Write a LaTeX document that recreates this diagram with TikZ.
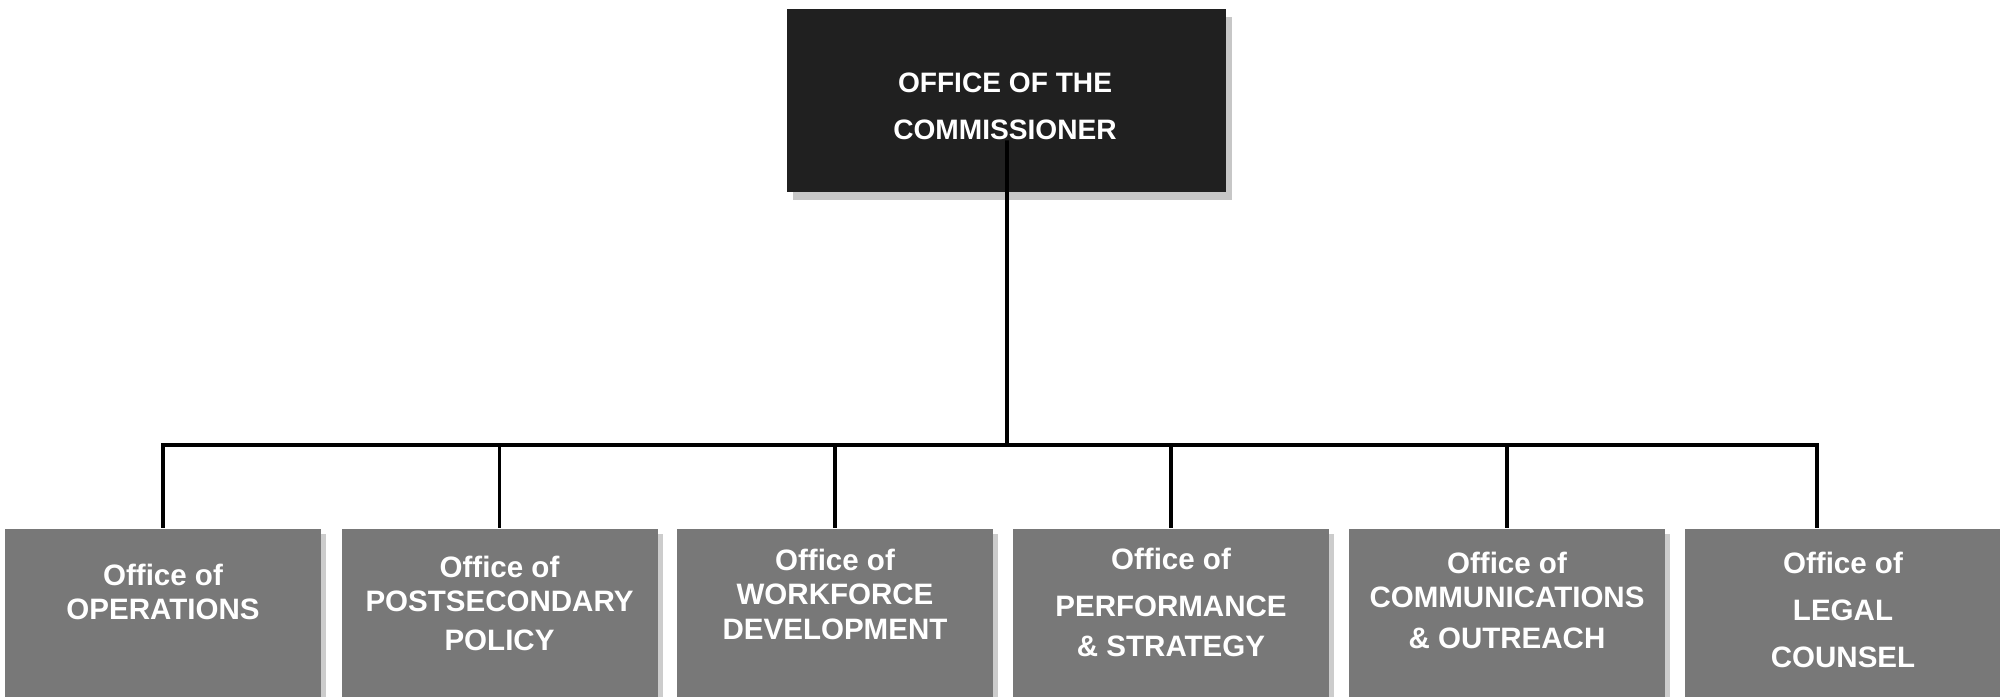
\documentclass[tikz,border=0pt]{standalone}
\usepackage{fontspec}
\setmainfont{Liberation Sans}
\definecolor{ChiefBlack}{RGB}{32, 32, 32}
\definecolor{UnitGray}{RGB}{120, 120, 120}
\usetikzlibrary{positioning, shadows, calc}

\begin{document}
\begin{tikzpicture}[
    chief/.style={fill=ChiefBlack, minimum width=4.39cm, minimum height=1.83cm, inner sep=0pt,
        drop shadow={shadow xshift=0.6mm, shadow yshift=-0.8mm, fill=black, opacity=0.22}},
    unit/.style={fill=UnitGray, minimum width=3.16cm, minimum height=1.68cm, inner sep=0pt,
        drop shadow={shadow xshift=0.5mm, shadow yshift=-0.5mm, fill=black, opacity=0.2}},
    chieftext/.style={anchor=north, inner sep=0pt, align=center, text=white,
        font=\fontsize{8.0}{13.4}\selectfont\bfseries},
    unittext/.style={anchor=north, inner sep=0pt, align=center, text=white,
        font=\fontsize{8.4}{9.9}\selectfont\bfseries},
    link/.style={line width=1.1pt, black}]
        \useasboundingbox (0,0) rectangle (20,6.97);

        % Commissioner
        \node[chief] (comm) at (10.065,5.965) {};
        \node[chieftext] (commT) at (10.05,6.25) {OFFICE OF THE\\COMMISSIONER};

        % Offices
        \node[unit] (ops) at (1.63,0.84) {};
        \node[unittext] (opsT) at (1.63,1.34) {Office of\\OPERATIONS};

        \node[unit] (pol) at (4.995,0.84) {};
        \node[unittext] (polT) at (4.995,1.42) {Office of\\POSTSECONDARY\\[1.2pt]POLICY};

        \node[unit] (wfd) at (8.35,0.84) {};
        \node[unittext] (wfdT) at (8.35,1.49) {Office of\\WORKFORCE\\DEVELOPMENT};

        \node[unit] (perf) at (11.71,0.84) {};
        \node[unittext] (perfT) at (11.71,1.50) {Office of\\[3.7pt]PERFORMANCE\\[1.4pt]\& STRATEGY};

        \node[unit] (outr) at (15.07,0.84) {};
        \node[unittext] (outrT) at (15.07,1.46) {Office of\\COMMUNICATIONS\\[1.7pt]\& OUTREACH};

        \node[unit] (legal) at (18.43,0.84) {};
        \node[unittext] (legalT) at (18.43,1.46) {Office of\\[3.7pt]LEGAL\\[3.4pt]COUNSEL};

        % Connectors
        \coordinate (hub) at (10.07,2.52);
        \draw[link] ([xshift=0.05mm, yshift=-4mm]comm.center) -- (hub);
        \draw[link] (hub) -| (ops.north);
        \draw[link] (hub) -| (pol.north);
        \draw[link] (hub) -| (wfd.north);
        \draw[link] (hub) -| (perf.north);
        \draw[link] (hub) -| (outr.north);
        \draw[link] (hub) -| ([xshift=-2.6mm]legal.north);
    \end{tikzpicture}
\end{document}
